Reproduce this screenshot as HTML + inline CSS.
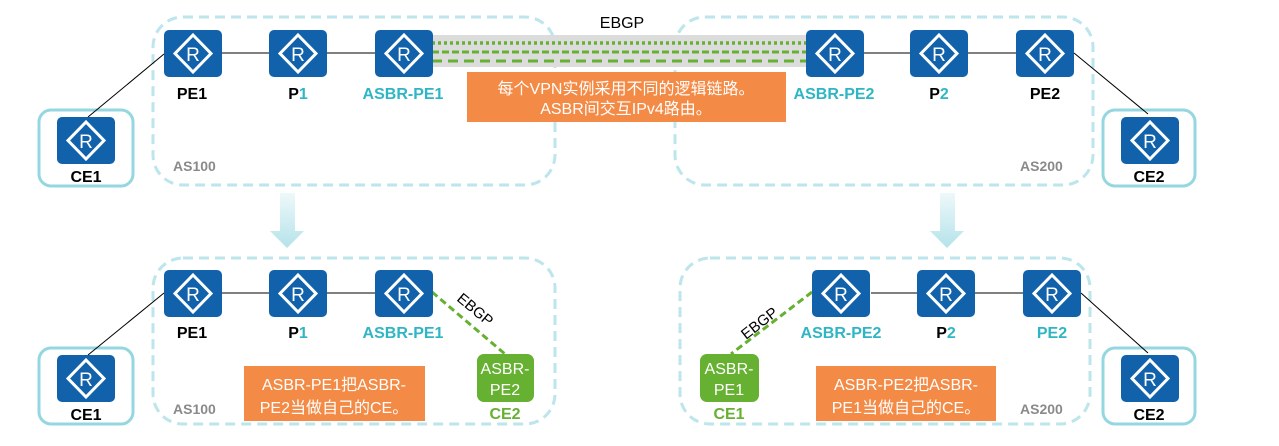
<!DOCTYPE html>
<html><head><meta charset="utf-8"><style>
html,body{margin:0;padding:0;background:#fff}
svg{display:block}
text{font-family:"Liberation Sans","Noto Sans CJK SC",sans-serif}
.lb{font-weight:bold;font-size:16px;text-anchor:middle}
.as{font-weight:bold;font-size:14px;fill:#8a8a8a}
.w{fill:#fff;font-size:16px;text-anchor:middle}
</style></head><body>
<svg width="1279" height="446" viewBox="0 0 1279 446" xmlns="http://www.w3.org/2000/svg">
<defs>
<g id="r">
<rect x="0" y="0" width="58" height="47" rx="5" fill="#1262ab"/>
<polygon points="29,5 47,23.5 29,42 11,23.5" fill="none" stroke="#fff" stroke-width="3"/>
<text x="29" y="31" font-size="19" fill="#fff" text-anchor="middle" font-family="Liberation Sans,sans-serif">R</text>
</g>
<linearGradient id="ag" x1="0" y1="0" x2="0" y2="1">
<stop offset="0" stop-color="#eef8fa"/><stop offset="1" stop-color="#b4e3ea"/>
</linearGradient>
</defs>
<g fill="none" stroke="#bde6ec" stroke-width="3" stroke-dasharray="10,6">
<rect x="153" y="17" width="402" height="168" rx="30"/>
<rect x="675" y="17" width="418" height="168" rx="30"/>
<rect x="153" y="258" width="402" height="166" rx="30"/>
<rect x="680" y="258" width="410" height="166" rx="30"/>
</g>
<g fill="#fff" stroke="#94d7e0" stroke-width="3">
<rect x="39" y="110" width="94" height="76" rx="12"/>
<rect x="1103" y="110" width="92" height="76" rx="12"/>
<rect x="39" y="348" width="94" height="76" rx="12"/>
<rect x="1103" y="348" width="92" height="76" rx="12"/>
</g>
<g stroke="#000" stroke-width="1">
<line x1="88" y1="117" x2="164" y2="54"/>
<line x1="221" y1="53" x2="269" y2="53"/>
<line x1="326" y1="53" x2="375" y2="53"/>
<line x1="863" y1="53" x2="910" y2="53"/>
<line x1="968" y1="53" x2="1016" y2="53"/>
<line x1="1074" y1="53" x2="1148" y2="114"/>
<line x1="88" y1="355" x2="164" y2="293"/>
<line x1="221" y1="293" x2="269" y2="293"/>
<line x1="326" y1="293" x2="375" y2="293"/>
<line x1="871" y1="293" x2="917" y2="293"/>
<line x1="975" y1="293" x2="1023" y2="293"/>
<line x1="1081" y1="293" x2="1148" y2="353"/>
</g>
<rect x="432" y="35" width="374" height="32" fill="#dcdcdc"/>
<g stroke="#66b032" stroke-width="3" fill="none">
<line x1="432" y1="43" x2="806" y2="43" stroke-dasharray="3,3" stroke-width="3.5"/>
<line x1="432" y1="52" x2="806" y2="52" stroke-dasharray="7,3"/>
<line x1="432" y1="61" x2="806" y2="61" stroke-dasharray="10,6"/>
<line x1="432" y1="292" x2="505" y2="354" stroke-dasharray="7,4"/>
<line x1="812" y1="292" x2="731" y2="354" stroke-dasharray="7,4"/>
</g>
<text x="622" y="28" font-size="16" text-anchor="middle">EBGP</text>
<text x="0" y="0" font-size="15" transform="translate(456,300) rotate(40)">EBGP</text>
<text x="0" y="0" font-size="15" transform="translate(746,340) rotate(-38)">EBGP</text>
<use href="#r" x="164" y="30"/><use href="#r" x="269" y="30"/><use href="#r" x="375" y="30"/>
<use href="#r" x="806" y="30"/><use href="#r" x="910" y="30"/><use href="#r" x="1016" y="30"/>
<use href="#r" x="57" y="117"/><use href="#r" x="1121" y="117"/>
<use href="#r" x="164" y="270"/><use href="#r" x="269" y="270"/><use href="#r" x="375" y="270"/>
<use href="#r" x="812" y="270"/><use href="#r" x="917" y="270"/><use href="#r" x="1023" y="270"/>
<use href="#r" x="57" y="355"/><use href="#r" x="1121" y="355"/>
<text class="lb" x="192" y="99">PE1</text>
<text class="lb" x="298" y="99">P<tspan fill="#2fb5c4">1</tspan></text>
<text class="lb" x="403" y="99" fill="#2fb5c4">ASBR-PE1</text>
<text class="lb" x="834" y="99" fill="#2fb5c4">ASBR-PE2</text>
<text class="lb" x="939" y="99">P<tspan fill="#2fb5c4">2</tspan></text>
<text class="lb" x="1045" y="99">PE2</text>
<text class="lb" x="86" y="182">CE1</text>
<text class="lb" x="1149" y="182">CE2</text>
<text class="as" x="173" y="171">AS100</text>
<text class="as" x="1020" y="171">AS200</text>
<text class="lb" x="192" y="338">PE1</text>
<text class="lb" x="298" y="338">P<tspan fill="#2fb5c4">1</tspan></text>
<text class="lb" x="403" y="338" fill="#2fb5c4">ASBR-PE1</text>
<text class="lb" x="841" y="338" fill="#2fb5c4">ASBR-PE2</text>
<text class="lb" x="946" y="338">P<tspan fill="#2fb5c4">2</tspan></text>
<text class="lb" x="1052" y="338" fill="#2fb5c4">PE2</text>
<text class="lb" x="86" y="420">CE1</text>
<text class="lb" x="1149" y="420">CE2</text>
<text class="as" x="173" y="414">AS100</text>
<text class="as" x="1020" y="414">AS200</text>
<rect x="467" y="72" width="319" height="50" fill="#f38a45"/>
<text class="w" x="626" y="94">每个VPN实例采用不同的逻辑链路。</text>
<text class="w" x="626" y="114">ASBR间交互IPv4路由。</text>
<rect x="244" y="366" width="181" height="55" fill="#f38a45"/>
<text class="w" x="334" y="390" font-size="17">ASBR-PE1把ASBR-</text>
<text class="w" x="334" y="413" font-size="17">PE2当做自己的CE。</text>
<rect x="816" y="366" width="180" height="55" fill="#f38a45"/>
<text class="w" x="906" y="390" font-size="17">ASBR-PE2把ASBR-</text>
<text class="w" x="906" y="413" font-size="17">PE1当做自己的CE。</text>
<rect x="477" y="354" width="57" height="48" rx="7" fill="#66b032"/>
<text class="w" x="505" y="374">ASBR-</text><text class="w" x="505" y="395">PE2</text>
<text class="lb" x="505" y="419" fill="#66b032">CE2</text>
<rect x="700" y="354" width="59" height="48" rx="7" fill="#66b032"/>
<text class="w" x="729" y="374">ASBR-</text><text class="w" x="729" y="395">PE1</text>
<text class="lb" x="729" y="419" fill="#66b032">CE1</text>
<polygon points="280,193 295,193 295,231 304,231 287,248 270,231 280,231" fill="url(#ag)"/>
<polygon points="940,193 955,193 955,231 964,231 947,248 930,231 940,231" fill="url(#ag)"/>
</svg>
</body></html>
